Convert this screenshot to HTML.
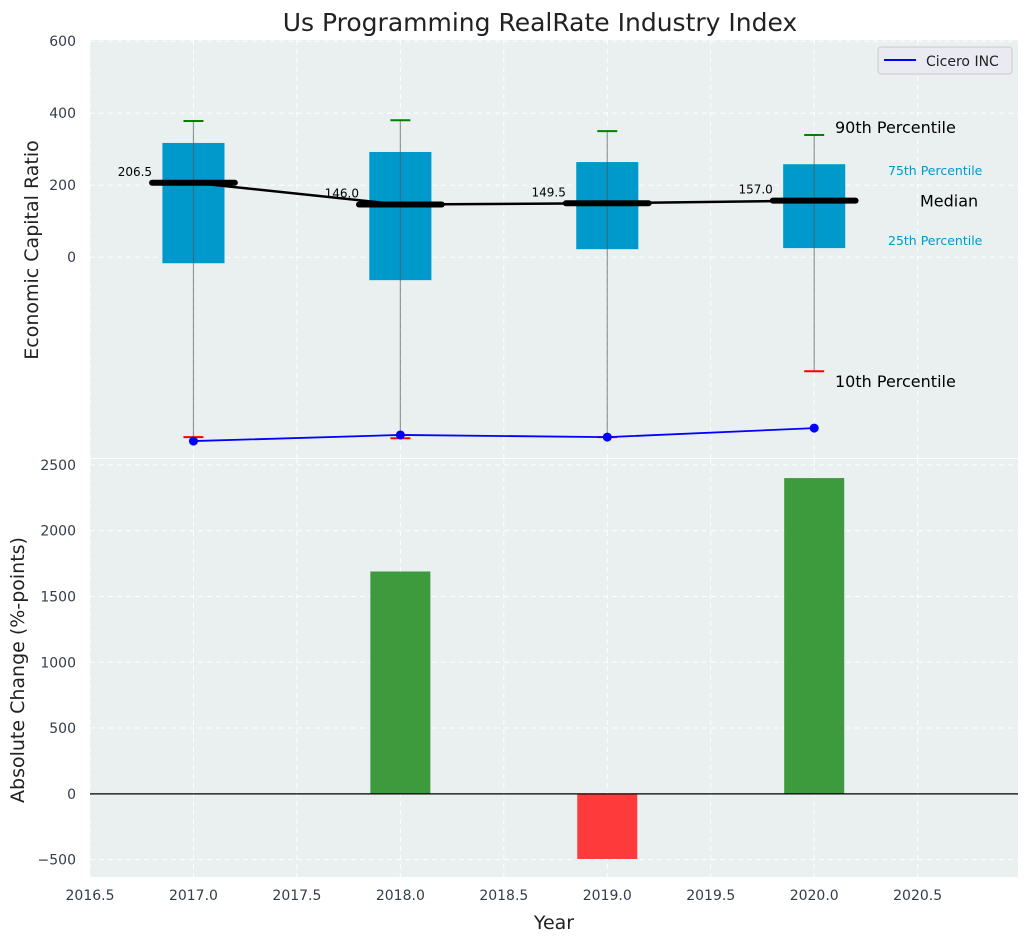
<!DOCTYPE html>
<html><head><meta charset="utf-8"><style>
body{margin:0;background:#fff;font-family:"Liberation Sans","DejaVu Sans",sans-serif}
svg text{font-family:"DejaVu Sans","Liberation Sans",sans-serif}
</style></head><body>
<svg id="c" width="1029" height="942" xmlns="http://www.w3.org/2000/svg"></svg>
<script>
const years=[2017,2018,2019,2020];
const p10=[-500,-503,-500,-317];
const p25=[-17,-64,22,25];
const med=[206.5,146.0,149.5,157.0];
const p75=[317,292,264,258];
const p90=[378,380,350,339];
const cicero=[-511,-494,-500,-475];
const changes=[0,1690,-495,2400];
const xTicks=[2016.5,2017,2017.5,2018,2018.5,2019,2019.5,2020,2020.5];
const yTopTicks=[600,400,200,0];
const yBotTicks=[2500,2000,1500,1000,500,0,-500];

const NS="http://www.w3.org/2000/svg";
const svg=document.getElementById('c');
function el(t,a,p){const e=document.createElementNS(NS,t);for(const k in a)e.setAttribute(k,a[k]);(p||svg).appendChild(e);return e;}
const L=90,R=1018;
const x=v=>L+(v-2016.5)*(R-L)/(2020.985-2016.5);
const T1=40,B1=458,yt=v=>T1+(603-v)*(B1-T1)/(603+558);
const T2=459,B2=877,yb=v=>T2+(2545-v)*(B2-T2)/(2545+632);

let bg=el('rect',{x:L,y:T1,width:R-L,height:B1-T1,fill:'#eaeff0'});

let bg2=el('rect',{x:L,y:T2,width:R-L,height:B2-T2,fill:'#eaeff0'});


xTicks.forEach(t=>{
  el('line',{x1:x(t),x2:x(t),y1:T1,y2:B1,stroke:'#fff','stroke-dasharray':'5,4','stroke-width':1});
  el('line',{x1:x(t),x2:x(t),y1:T2,y2:B2,stroke:'#fff','stroke-dasharray':'5,4','stroke-width':1});
  const tx=el('text',{x:x(t),y:B2+23,'text-anchor':'middle','font-size':14,fill:'#333d4a'});
  tx.textContent=t.toFixed(1);
  
});
yTopTicks.forEach(t=>{
  el('line',{x1:L,x2:R,y1:yt(t),y2:yt(t),stroke:'#fff','stroke-dasharray':'5,4'});
  const tx=el('text',{x:76,y:yt(t)+5,'text-anchor':'end','font-size':14,fill:'#333d4a'});
  tx.textContent=t;
  
});
yBotTicks.forEach(t=>{
  el('line',{x1:L,x2:R,y1:yb(t),y2:yb(t),stroke:'#fff','stroke-dasharray':'5,4'});
  const tx=el('text',{x:76,y:yb(t)+5,'text-anchor':'end','font-size':14,fill:'#333d4a'});
  tx.textContent=t<0?'\u2212'+Math.abs(t):t;
  
});

years.forEach((yr,i)=>{
  const cx=x(yr);
  const b=el('rect',{x:x(yr-0.15),y:yt(p75[i]),width:x(yr+0.15)-x(yr-0.15),height:yt(p25[i])-yt(p75[i]),fill:'#0099cc'});
  
  el('line',{x1:cx,x2:cx,y1:yt(p90[i]),y2:yt(p10[i]),stroke:'#555',"stroke-opacity":0.6,'stroke-width':1.2});
  el('line',{x1:cx-10,x2:cx+10,y1:yt(p90[i]),y2:yt(p90[i]),stroke:'green','stroke-width':2});
  el('line',{x1:cx-10,x2:cx+10,y1:yt(p10[i]),y2:yt(p10[i]),stroke:'red','stroke-width':2});
});
let d=years.map((yr,i)=>(i?'L':'M')+x(yr)+','+yt(med[i])).join(' ');
let ml=el('path',{d:d,fill:'none',stroke:'#000','stroke-width':2.5});

years.forEach((yr,i)=>{
  const m=el('line',{x1:x(yr-0.2),x2:x(yr+0.2),y1:yt(med[i]),y2:yt(med[i]),stroke:'#000','stroke-width':6,'stroke-linecap':'round'});
  
  const t=el('text',{x:x(yr-0.2),y:yt(med[i])-7,'text-anchor':'end','font-size':12,fill:'#000'});
  t.textContent=med[i].toFixed(1);
  
});
let cd=years.map((yr,i)=>(i?'L':'M')+x(yr)+','+yt(cicero[i])).join(' ');
let cl=el('path',{d:cd,fill:'none',stroke:'blue','stroke-width':1.8});

years.forEach((yr,i)=>{
  const c=el('circle',{cx:x(yr),cy:yt(cicero[i]),r:4.5,fill:'blue'});
  
});
const li=3;
[['90th Percentile',yt(p90[li])-2,16,'#000',835],['75th Percentile',yt(p75[li])+11,12.5,'#0099cc',888],['Median',yt(med[li])+6,16,'#000',920],['25th Percentile',yt(p25[li])-3,12.5,'#0099cc',888],['10th Percentile',yt(p10[li])+16,16,'#000',835]].forEach(a=>{
  const t=el('text',{x:a[4],y:a[1],'font-size':a[2],fill:a[3]});
  t.textContent=a[0];
  
});
const lg=el('g',{});

el('rect',{x:878,y:47,width:134,height:27,rx:3,fill:'#eaeaf2',stroke:'#ccc'},lg);
el('line',{x1:884,x2:916,y1:60,y2:60,stroke:'blue','stroke-width':2},lg);
const lt=el('text',{x:926,y:66,'font-size':14,fill:'#222'},lg);lt.textContent='Cicero INC';

years.forEach((yr,i)=>{
  const v=changes[i];if(v===0)return;
  const y0=yb(0),y1=yb(v);
  const r=el('rect',{x:x(yr-0.145),y:Math.min(y0,y1),width:x(yr+0.145)-x(yr-0.145),height:Math.abs(y1-y0),fill:v>0?'#2e922e':'#ff2a2a','fill-opacity':0.92});
  
});
el('line',{x1:L,x2:R,y1:yb(0),y2:yb(0),stroke:'#000','stroke-width':1.2});

let ti=el('text',{x:540,y:31,'text-anchor':'middle','font-size':25,fill:'#222'});ti.textContent='Us Programming RealRate Industry Index';

let y1t=el('text',{x:38,y:250,'text-anchor':'middle','font-size':19,fill:'#222',transform:'rotate(-90 38 250)'});y1t.textContent='Economic Capital Ratio';

let y2t=el('text',{x:24,y:670,'text-anchor':'middle','font-size':19,fill:'#222',transform:'rotate(-90 24 670)'});y2t.textContent='Absolute Change (%-points)';

let xt=el('text',{x:554,y:929,'text-anchor':'middle','font-size':19,fill:'#222'});xt.textContent='Year';

</script>
</body></html>
